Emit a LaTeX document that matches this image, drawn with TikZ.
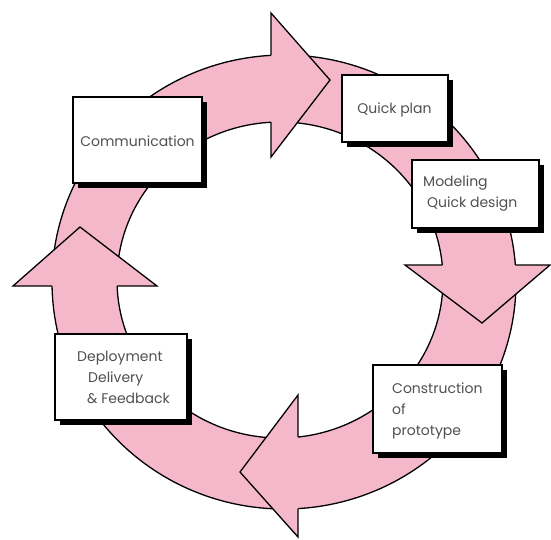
\documentclass[tikz,border=0pt]{standalone}
\usepackage{fontspec}
\setmainfont{Poppins}
\usetikzlibrary{shadows}
\definecolor{ringpink}{RGB}{245,184,203}
\definecolor{txtgray}{RGB}{80,80,80}
\begin{document}
\begin{tikzpicture}[x=1pt,y=-1pt,
  ringline/.style={line width=1.3pt, line join=miter},
  stepbox/.style={draw=black, line width=2pt, fill=white, inner sep=0pt,
    drop shadow={shadow xshift=4.5pt, shadow yshift=-4.5pt, fill=black, opacity=1}},
  lbl/.style={font=\fontsize{14}{21}\selectfont, text=txtgray, inner sep=0pt, align=left}]
\useasboundingbox (0,0) rectangle (551,539);
% ring
\fill[ringpink, even odd rule] (284,282) ellipse [x radius=232, y radius=227]
  (280,280) ellipse [x radius=163, y radius=158];
\draw[ringline] (284,282) ellipse [x radius=232, y radius=227];
\draw[ringline] (280,280) ellipse [x radius=163, y radius=158];
% top head
\fill[ringpink] (271,13) -- (330,80) -- (271,157) -- cycle;
\draw[ringline] (271,55.4) -- (271,13) -- (330,80) -- (271,157) -- (271,122.2);
% right head
\fill[ringpink] (405,265) -- (482,323) -- (550,265) -- cycle;
\draw[ringline] (442.3,265) -- (405,265) -- (482,323) -- (550,265) -- (515.3,265);
% bottom head
\fill[ringpink] (298,395) -- (240,472) -- (298,537) -- cycle;
\draw[ringline] (298,437) -- (298,395) -- (240,472) -- (298,537) -- (298,508.6);
% left head
\fill[ringpink] (13,286) -- (80,227) -- (157,286) -- cycle;
\draw[ringline] (52,286) -- (13,286) -- (80,227) -- (157,286) -- (117.1,286);
% boxes
\node[stepbox, minimum width=129pt, minimum height=86pt] (comm) at (137.5,140) {};
\node[stepbox, minimum width=106pt, minimum height=67pt] (qplan) at (395,108.5) {};
\node[stepbox, minimum width=127pt, minimum height=68pt] (model) at (475.5,194) {};
\node[stepbox, minimum width=129pt, minimum height=88pt] (constr) at (437.5,409) {};
\node[stepbox, minimum width=132pt, minimum height=86pt] (deploy) at (121,377) {};
% texts
\node[lbl] (commt) at (137.5,141.5) {Communication};
\node[lbl] (qplant) at (394.5,110) {Quick plan};
\node[lbl, anchor=west] (modelt) at (423,194) {Modeling\\\hspace*{4pt}Quick design};
\node[lbl, anchor=west] (constrt) at (392,411) {Construction\\of\\prototype};
\node[lbl, anchor=west] (deployt) at (77,377) {Deployment\\\hspace*{11pt}Delivery\\\hspace*{10pt}\& Feedback};
\end{tikzpicture}
\end{document}
